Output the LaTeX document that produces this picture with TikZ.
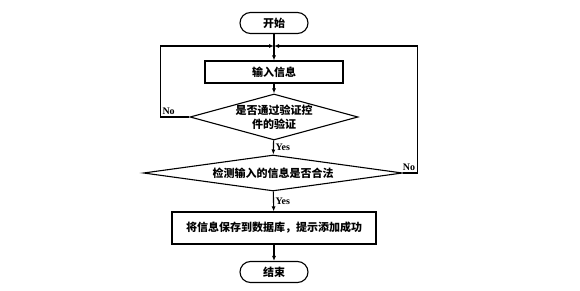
\documentclass[tikz,border=0pt]{standalone}
\usepackage{fontspec}
\setmainfont{Liberation Serif}
\newfontfamily\cjk{Noto Sans CJK SC}
\usetikzlibrary{shapes.geometric,arrows.meta}

\begin{document}
\begin{tikzpicture}[x=1pt,y=-1pt,line width=1.1pt,
  every node/.style={font=\cjk\bfseries\fontsize{11}{14}\selectfont},
  terminal/.style={draw,rounded corners=10.5pt,minimum width=68pt,minimum height=21pt,inner sep=0pt},
  process/.style={draw,rectangle,inner sep=0pt},
  decision/.style={draw,diamond,inner sep=0pt,align=center},
  arrow/.style={-{Latex[length=5pt,width=4pt]}},
  answer/.style={font=\bfseries\fontsize{10}{11}\selectfont,inner sep=1.5pt}]
  \useasboundingbox (0,0) rectangle (580,291);

  \node[terminal] (start) at (274,23) {开始};
  \node[process,minimum width=138pt,minimum height=22pt] (input) at (274,72) {输入信息};
  \node[decision,aspect=3.65,minimum width=168pt,minimum height=46pt] (check) at (274,117) {是否通过验证控\\件的验证};
  \node[decision,aspect=7.2,minimum width=259pt,minimum height=36pt] (legal) at (273,173) {检测输入的信息是否合法};
  \node[process,minimum width=204pt,minimum height=32pt] (save) at (274,228) {将信息保存到数据库，提示添加成功};
  \node[terminal] (stop) at (274,272) {结束};
  \coordinate (merge) at (274,46);

  \draw[arrow] (start) -- (input);
  \draw[arrow] (input) -- (check);
  \draw[arrow] (check) -- (legal) node[answer,midway,right] {Yes};
  \draw[arrow] (legal) -- (save) node[answer,midway,right] {Yes};
  \draw[arrow] (save) -- (stop);

  % loops back to the input
  \draw[arrow] (check.west) -- ++(-29,0) node[answer,above right] {No} |- (merge);
  \draw[arrow] (legal.east) -- ++(14,0) node[answer,above left] {No} |- (merge);
\end{tikzpicture}
\end{document}
